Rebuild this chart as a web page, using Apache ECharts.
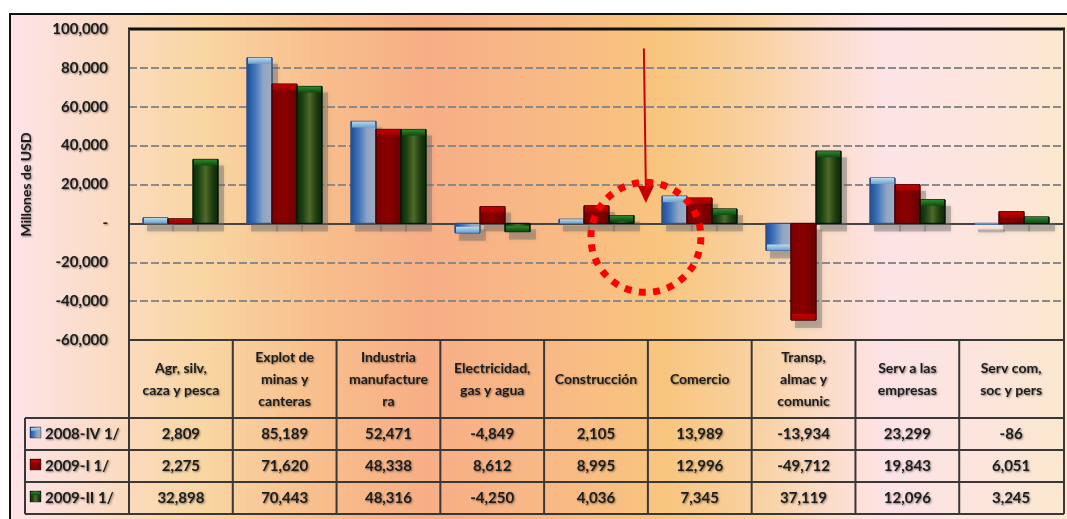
<!DOCTYPE html>
<html>
<head>
<meta charset="utf-8">
<script src="https://cdn.jsdelivr.net/npm/echarts@6/dist/echarts.min.js"></script>
<style>
  html, body { margin: 0; padding: 0; background: #ffffff; }
  #wrap { position: relative; width: 1067px; height: 519px; overflow: hidden; }
  #panel {
    position: absolute; left: 9px; top: 13px; width: 1070px; height: 520px;
    border: 2px solid #111;
    background: linear-gradient(90deg, #fde3e8 0%, #fbdcc4 9%, #f9d6a2 18%, #f8bc8b 30%, #f7ae85 39%, #f8b985 50%, #f8c57e 61%, #f9d2a3 70%, #fcdcc8 76%, #fde3e6 82%, #fce5dc 91%, #fbe9cb 100%);
  }
  #c { position: absolute; left: 0; top: 0; width: 1067px; height: 519px; }
</style>
</head>
<body>
<div id="wrap">
  <div id="panel"></div>
  <div id="c"></div>
</div>
<script>
// Sectors (column headers of the table)
const categories = [
  'Agr, silv,\ncaza y pesca',
  'Explot de\nminas y\ncanteras',
  'Industria\nmanufacture\nra',
  'Electricidad,\ngas y agua',
  'Construcción',
  'Comercio',
  'Transp,\nalmac y\ncomunic',
  'Serv a las\nempresas',
  'Serv com,\nsoc y pers'
];

// Quarters
const seriesNames = ['2008-IV 1/', '2009-I 1/', '2009-II 1/'];

// Values in millions of USD per sector
const q2008IV = [2809, 85189, 52471, -4849, 2105, 13989, -13934, 23299, -86];
const q2009I  = [2275, 71620, 48338, 8612, 8995, 12996, -49712, 19843, 6051];
const q2009II = [32898, 70443, 48316, -4250, 4036, 7345, 37119, 12096, 3245];

// Value axis ticks
const yMin = -60000;
const yMax = 100000;
const yStep = 20000;

(function () {
  const FONT = 'Lato, "Open Sans", sans-serif';
  const TXT = '#1c1c1c';
  const shadowTxt = {
    textShadowColor: 'rgba(0,0,0,0.45)',
    textShadowBlur: 2,
    textShadowOffsetX: 1,
    textShadowOffsetY: 1
  };
  const BAR_W = 25;

  const hGrad = (stops) => new echarts.graphic.LinearGradient(0, 0, 1, 0,
    stops.map(([o, c]) => ({ offset: o, color: c })));
  const vGrad = (stops) => new echarts.graphic.LinearGradient(0, 0, 0, 1,
    stops.map(([o, c]) => ({ offset: o, color: c })));

  // glossy bar looks per quarter: body, cap and outline
  const looks = [
    {
      body: hGrad([[0, '#1a4c98'], [0.3, '#3d71b8'], [0.65, '#8ea5c6'], [1, '#a2acbe']]),
      cap: vGrad([[0, '#b6dcee'], [1, '#6f9fcc']]),
      edge: '#2f5384'
    },
    {
      body: hGrad([[0, '#7a0000'], [0.5, '#8c0000'], [1, '#660000']]),
      cap: vGrad([[0, '#c20000'], [1, '#9e0000']]),
      edge: '#4a0000'
    },
    {
      body: hGrad([[0, '#072807'], [0.25, '#1f4314'], [0.5, '#4f6a28'], [0.75, '#223f12'], [1, '#062406']]),
      cap: vGrad([[0, '#2c8a2c'], [1, '#0f4a0f']]),
      edge: '#031803'
    }
  ];
  const seriesData = [q2008IV, q2009I, q2009II];

  const chart = echarts.init(document.getElementById('c'), null, { renderer: 'canvas' });

  const makeRender = (k) => (params, api) => {
    const ci = api.value(0);
    const v = api.value(1);
    const base = api.coord([ci, 0]);
    const end = api.coord([ci, v]);
    const x = Math.round(base[0] - 1.5 * BAR_W + k * BAR_W);
    const y = Math.min(base[1], end[1]);
    const h = Math.max(Math.abs(end[1] - base[1]), 1);
    const look = looks[k];
    const capH = Math.min(6, h);
    const capY = v >= 0 ? y : y + h - capH;
    return {
      type: 'group',
      children: [
        {
          type: 'rect',
          shape: { x: x + 4, y: y + 6, width: BAR_W + 2, height: h + 2 },
          style: { fill: 'rgba(100,100,100,0.38)', shadowColor: 'rgba(100,100,100,0.5)', shadowBlur: 4 }
        },
        {
          type: 'rect',
          shape: { x, y, width: BAR_W, height: h },
          style: { fill: look.body, stroke: look.edge, lineWidth: 1 }
        },
        {
          type: 'rect',
          shape: { x: x + 1, y: capY, width: BAR_W - 2, height: capH },
          style: { fill: look.cap }
        }
      ]
    };
  };

  const option = {
    backgroundColor: 'transparent',
    animation: false,
    grid: { left: 129, right: 4, top: 29, bottom: 179, containLabel: false },
    xAxis: [
      {
        type: 'category',
        data: categories,
        position: 'bottom',
        axisLine: { show: false },
        axisTick: { show: false },
        axisLabel: {
          interval: 0,
          margin: 39,
          verticalAlign: 'middle',
          fontFamily: FONT,
          fontWeight: 'bold',
          fontSize: 14,
          lineHeight: 22,
          color: TXT,
          ...shadowTxt
        },
        splitLine: { show: false }
      },
      {
        // zero baseline
        type: 'category',
        data: categories,
        position: 'bottom',
        axisLine: { show: true, onZero: true, onZeroAxisIndex: 0, lineStyle: { color: '#444', width: 2 } },
        axisTick: { show: false },
        axisLabel: { show: false },
        splitLine: { show: false }
      }
    ],
    yAxis: {
      type: 'value',
      min: yMin,
      max: yMax,
      interval: yStep,
      name: 'Millones de USD',
      nameLocation: 'middle',
      nameGap: 96,
      nameRotate: 90,
      nameTextStyle: {
        fontFamily: FONT, fontWeight: 'bold', fontSize: 14, color: TXT, ...shadowTxt
      },
      axisLine: { show: false },
      axisTick: { show: false },
      axisLabel: {
        margin: 21,
        fontFamily: FONT,
        fontWeight: 'bold',
        fontSize: 15,
        color: TXT,
        ...shadowTxt,
        formatter: (v) => v === 0 ? '-' : v.toLocaleString('en-US')
      },
      splitLine: {
        show: true,
        lineStyle: { color: '#8a8a8a', width: 2, type: [8, 3] }
      }
    },
    series: seriesNames.map((name, k) => ({
      name,
      type: 'custom',
      xAxisIndex: 0,
      yAxisIndex: 0,
      data: seriesData[k].map((v, i) => [i, v]),
      encode: { x: 0, y: 1 },
      renderItem: makeRender(k)
    }))
  };

  chart.setOption(option);

  // Table, frame and annotation laid out from the axis geometry
  const px = (i) => chart.convertToPixel({ xAxisIndex: 0 }, i);
  const py = (v) => chart.convertToPixel({ yAxisIndex: 0 }, v);
  const band = px(1) - px(0);
  const plotLeft = px(0) - band / 2;
  const plotRight = px(categories.length - 1) + band / 2;
  const plotTop = py(yMax);
  const axisY = py(yMin);
  const headerH = 78;
  const rowH = 32;
  const rowTops = [0, 1, 2, 3].map(k => axisY + headerH + k * rowH);
  const tableBottom = rowTops[3];
  const legendLeft = 25;
  const LINE = '#383838';

  const els = [];
  const line = (x1, y1, x2, y2, w, c) => els.push({
    type: 'line', z: 50, silent: true,
    shape: { x1, y1, x2, y2 },
    style: { stroke: c || LINE, lineWidth: w || 2 }
  });

  // plot frame
  line(plotLeft - 1, plotTop, plotRight + 2, plotTop, 3, '#111');
  line(plotLeft, plotTop, plotLeft, tableBottom, 2);
  line(plotRight + 1, plotTop, plotRight + 1, tableBottom, 2);
  // table horizontal rules
  line(plotLeft, axisY, plotRight + 1, axisY, 2);
  rowTops.forEach((y) => line(legendLeft, y, plotRight + 1, y, 2));
  line(legendLeft, rowTops[0], legendLeft, tableBottom, 2);
  // column separators
  for (let i = 1; i < categories.length; i++) {
    const x = plotLeft + band * i;
    line(x, axisY, x, tableBottom, 2);
  }

  const txtStyle = (text, align) => ({
    text, fill: TXT, font: `bold 15px ${FONT}`,
    align, verticalAlign: 'middle',
    textShadowColor: 'rgba(0,0,0,0.45)', textShadowBlur: 2,
    textShadowOffsetX: 1, textShadowOffsetY: 1
  });

  // legend cells and values
  seriesNames.forEach((name, k) => {
    const cy = rowTops[k] + rowH / 2;
    els.push({
      type: 'rect', z: 60, silent: true,
      shape: { x: 30, y: cy - 7, width: 11, height: 11 },
      style: { fill: looks[k].body, stroke: 'rgba(0,0,0,0.35)', lineWidth: 1 }
    });
    els.push({
      type: 'rect', z: 61, silent: true,
      shape: { x: 31, y: cy - 6, width: 9, height: 3 },
      style: { fill: looks[k].cap }
    });
    els.push({ type: 'text', z: 60, silent: true, x: 45, y: cy, style: txtStyle(name, 'left') });
    seriesData[k].forEach((v, i) => {
      els.push({
        type: 'text', z: 60, silent: true,
        x: px(i), y: cy, style: txtStyle(v.toLocaleString('en-US'), 'center')
      });
    });
  });

  // highlight: dotted ring and arrow between Construcción and Comercio
  const ringX = (px(4) + px(5)) / 2 - 2;
  const ringY = py(-7200);
  els.push({
    type: 'circle', z: 70, silent: true,
    shape: { cx: ringX, cy: ringY, r: 55 },
    style: { fill: 'none', stroke: '#ff0000', lineWidth: 7, lineDash: [7, 7.4] }
  });
  const arrowTop = py(90000);
  const arrowTip = py(10500);
  els.push({
    type: 'line', z: 71, silent: true,
    shape: { x1: ringX - 2, y1: arrowTop, x2: ringX, y2: arrowTip - 14 },
    style: { stroke: '#cc0000', lineWidth: 2 }
  });
  els.push({
    type: 'polygon', z: 71, silent: true,
    shape: { points: [[ringX - 8, arrowTip - 17], [ringX + 8, arrowTip - 17], [ringX, arrowTip]] },
    style: { fill: '#c40000' }
  });

  chart.setOption({ graphic: { elements: els } });
})();
</script>
</body>
</html>
